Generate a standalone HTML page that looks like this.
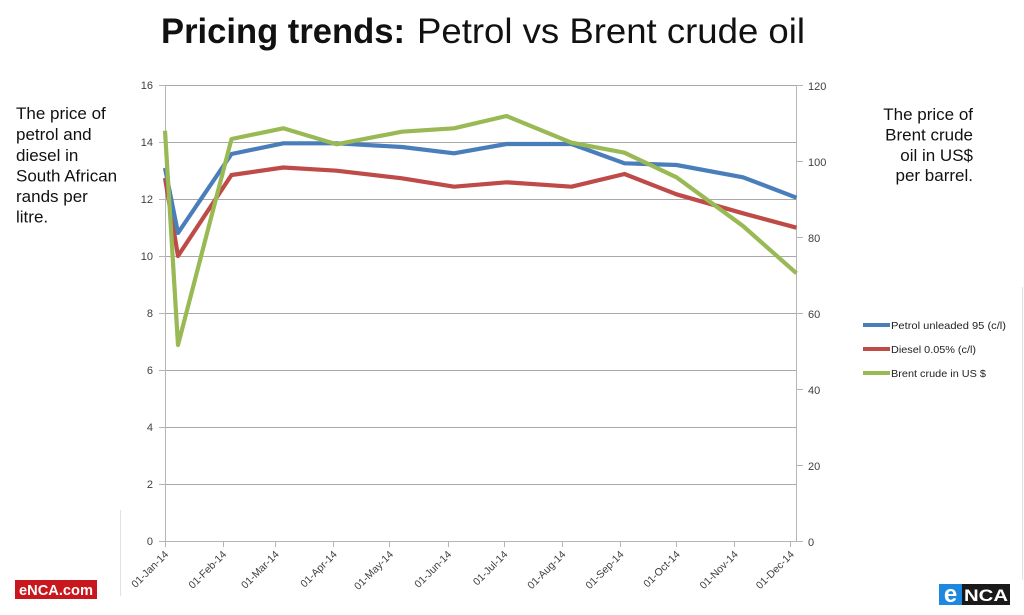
<!DOCTYPE html>
<html>
<head>
<meta charset="utf-8">
<style>
  html,body{margin:0;padding:0;background:#fff;}
  svg{display:block;}
  text{font-family:"Liberation Sans",sans-serif;}
</style>
</head>
<body>
<svg width="1024" height="615" viewBox="0 0 1024 615" xmlns="http://www.w3.org/2000/svg">
  <rect x="0" y="0" width="1024" height="615" fill="#ffffff"/>

  <!-- Title -->
  <text x="161" y="43" font-size="35" font-weight="bold" fill="#111" textLength="244" lengthAdjust="spacingAndGlyphs">Pricing trends:</text>
  <text x="417" y="43" font-size="35" fill="#111" textLength="388" lengthAdjust="spacingAndGlyphs">Petrol vs Brent crude oil</text>

  <!-- Left annotation -->
  <g font-size="17" fill="#111">
    <text x="16" y="119">The price of</text>
    <text x="16" y="140">petrol and</text>
    <text x="16" y="161">diesel in</text>
    <text x="16" y="181.5">South African</text>
    <text x="16" y="202">rands per</text>
    <text x="16" y="222.5">litre.</text>
  </g>

  <!-- Right annotation -->
  <g font-size="17" fill="#111" text-anchor="end">
    <text x="973" y="120">The price of</text>
    <text x="973" y="140.5">Brent crude</text>
    <text x="973" y="161">oil in US$</text>
    <text x="973" y="181">per barrel.</text>
  </g>

  <!-- Gridlines -->
  <g stroke="#a8a8a8" stroke-width="1">
    <line x1="165" y1="85.5" x2="797" y2="85.5"/>
    <line x1="165" y1="142.5" x2="797" y2="142.5"/>
    <line x1="165" y1="199.5" x2="797" y2="199.5"/>
    <line x1="165" y1="256.5" x2="797" y2="256.5"/>
    <line x1="165" y1="313.5" x2="797" y2="313.5"/>
    <line x1="165" y1="370.5" x2="797" y2="370.5"/>
    <line x1="165" y1="427.5" x2="797" y2="427.5"/>
    <line x1="165" y1="484.5" x2="797" y2="484.5"/>
  </g>

  <!-- Axes -->
  <g stroke="#b5b5b5" stroke-width="1">
    <line x1="165.5" y1="85" x2="165.5" y2="541"/>
    <line x1="796.5" y1="85" x2="796.5" y2="541"/>
    <line x1="165" y1="541.5" x2="797" y2="541.5"/>
    <!-- left ticks -->
    <line x1="159" y1="85.5" x2="165" y2="85.5"/>
    <line x1="159" y1="142.5" x2="165" y2="142.5"/>
    <line x1="159" y1="199.5" x2="165" y2="199.5"/>
    <line x1="159" y1="256.5" x2="165" y2="256.5"/>
    <line x1="159" y1="313.5" x2="165" y2="313.5"/>
    <line x1="159" y1="370.5" x2="165" y2="370.5"/>
    <line x1="159" y1="427.5" x2="165" y2="427.5"/>
    <line x1="159" y1="484.5" x2="165" y2="484.5"/>
    <line x1="159" y1="541.5" x2="165" y2="541.5"/>
    <!-- right ticks -->
    <line x1="797" y1="85.5" x2="803" y2="85.5"/>
    <line x1="797" y1="161.5" x2="803" y2="161.5"/>
    <line x1="797" y1="237.5" x2="803" y2="237.5"/>
    <line x1="797" y1="313.5" x2="803" y2="313.5"/>
    <line x1="797" y1="389.5" x2="803" y2="389.5"/>
    <line x1="797" y1="465.5" x2="803" y2="465.5"/>
    <line x1="797" y1="541.5" x2="803" y2="541.5"/>
    <!-- bottom ticks -->
    <line x1="165.5" y1="541" x2="165.5" y2="547"/>
    <line x1="223.5" y1="541" x2="223.5" y2="547"/>
    <line x1="275.5" y1="541" x2="275.5" y2="547"/>
    <line x1="333.5" y1="541" x2="333.5" y2="547"/>
    <line x1="389.5" y1="541" x2="389.5" y2="547"/>
    <line x1="448.5" y1="541" x2="448.5" y2="547"/>
    <line x1="504.5" y1="541" x2="504.5" y2="547"/>
    <line x1="562.5" y1="541" x2="562.5" y2="547"/>
    <line x1="620.5" y1="541" x2="620.5" y2="547"/>
    <line x1="676.5" y1="541" x2="676.5" y2="547"/>
    <line x1="734.5" y1="541" x2="734.5" y2="547"/>
    <line x1="790.5" y1="541" x2="790.5" y2="547"/>
  </g>

  <!-- Left axis labels -->
  <g font-size="11" fill="#404040" text-anchor="end">
    <text x="153" y="89">16</text>
    <text x="153" y="146">14</text>
    <text x="153" y="203">12</text>
    <text x="153" y="260">10</text>
    <text x="153" y="317">8</text>
    <text x="153" y="374">6</text>
    <text x="153" y="431">4</text>
    <text x="153" y="488">2</text>
    <text x="153" y="545">0</text>
  </g>

  <!-- Right axis labels -->
  <g font-size="11" fill="#404040">
    <text x="808" y="90">120</text>
    <text x="808" y="166">100</text>
    <text x="808" y="242">80</text>
    <text x="808" y="318">60</text>
    <text x="808" y="394">40</text>
    <text x="808" y="470">20</text>
    <text x="808" y="546">0</text>
  </g>

  <!-- X labels -->
  <g font-size="10.5" fill="#404040" text-anchor="end">
    <text transform="translate(169,555) rotate(-45)">01-Jan-14</text>
    <text transform="translate(227,555) rotate(-45)">01-Feb-14</text>
    <text transform="translate(279.6,555) rotate(-45)">01-Mar-14</text>
    <text transform="translate(337.7,555) rotate(-45)">01-Apr-14</text>
    <text transform="translate(393.9,555) rotate(-45)">01-May-14</text>
    <text transform="translate(452,555) rotate(-45)">01-Jun-14</text>
    <text transform="translate(508.2,555) rotate(-45)">01-Jul-14</text>
    <text transform="translate(566.3,555) rotate(-45)">01-Aug-14</text>
    <text transform="translate(624.4,555) rotate(-45)">01-Sep-14</text>
    <text transform="translate(680.6,555) rotate(-45)">01-Oct-14</text>
    <text transform="translate(738.6,555) rotate(-45)">01-Nov-14</text>
    <text transform="translate(794.8,555) rotate(-45)">01-Dec-14</text>
  </g>

  <!-- Series -->
  <g fill="none" stroke-width="4.2" stroke-linejoin="round" stroke-linecap="butt">
    <polyline stroke="#be4b48" points="165,178 178,256 231.5,175 283.3,167.5 336.5,170.7 402,178.3 454,186.7 506.5,182.3 571.5,186.7 624.5,174 676.5,194.3 743,213.3 796.5,227.7"/>
    <polyline stroke="#4a7ebb" points="165,168 178,233 231.5,154 283.3,143.3 336.5,143.3 402,147 454,153.3 506.5,144 571.5,144 624.5,163.3 676.5,165 743,177.3 796.5,197.7"/>
    <polyline stroke="#98b954" points="165,130.7 178,345 231.5,139 283.3,128.3 336.5,144.3 402,131.7 454,128.3 506.5,116 571.5,142.7 624.5,152.7 676.5,177.3 743,226 796.5,273.3"/>
  </g>

  <!-- Legend -->
  <g stroke-width="4">
    <line x1="863" y1="325" x2="890" y2="325" stroke="#4a7ebb"/>
    <line x1="863" y1="349" x2="890" y2="349" stroke="#be4b48"/>
    <line x1="863" y1="373" x2="890" y2="373" stroke="#98b954"/>
  </g>
  <g font-size="10.5" fill="#222">
    <text x="891" y="329" textLength="115" lengthAdjust="spacingAndGlyphs">Petrol unleaded 95 (c/l)</text>
    <text x="891" y="353" textLength="85" lengthAdjust="spacingAndGlyphs">Diesel 0.05% (c/l)</text>
    <text x="891" y="377" textLength="95" lengthAdjust="spacingAndGlyphs">Brent crude in US $</text>
  </g>

  <!-- faint frame remnants -->
  <g stroke="#e2e2e2" stroke-width="1">
    <line x1="120.5" y1="510" x2="120.5" y2="596"/>
    <line x1="1022.5" y1="287" x2="1022.5" y2="580"/>
  </g>

  <!-- eNCA.com logo -->
  <rect x="15" y="580" width="82" height="19" fill="#c8171d"/>
  <text x="56" y="595" font-size="15" font-weight="bold" fill="#ffffff" text-anchor="middle" textLength="74" lengthAdjust="spacingAndGlyphs">eNCA.com</text>

  <!-- eNCA logo -->
  <rect x="939" y="584" width="23" height="21" fill="#1e88e0"/>
  <rect x="962" y="584" width="48" height="21" fill="#1a1a1a"/>
  <text x="950.5" y="602" font-size="24" font-weight="bold" fill="#ffffff" text-anchor="middle">e</text>
  <text x="986" y="601" font-size="17" font-weight="bold" fill="#ffffff" text-anchor="middle" textLength="44" lengthAdjust="spacingAndGlyphs">NCA</text>
</svg>
</body>
</html>
